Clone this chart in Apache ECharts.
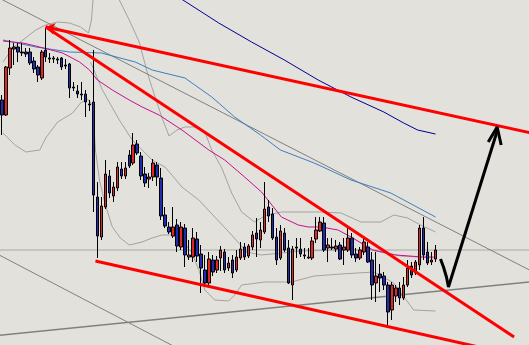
<!DOCTYPE html>
<html><head><meta charset="utf-8">
<script src="https://cdn.jsdelivr.net/npm/echarts@6/dist/echarts.min.js"></script>
<style>html,body{margin:0;padding:0;background:#e2e1dc;overflow:hidden}#c{width:529px;height:345px}</style>
</head><body><div id="c"></div>
<script>
// ---- data (price units, bar index on x) ----
const slotCount = 133;
const categories = Array.from({length: slotCount}, (_, i) => String(i));
// candles: [open, close, low, high]
const candles = [
[245,230,210,250],[230,278,229,279],[277,297,270,305],[296,298,280,302],[298,293,283,302],
[293,292,289,302],[293,291,288,297],[293,282,280,297],[284,276,272,288],[278,270,263,280],
[267,293,265,295],[295,288,283,317],[287,286,282,292],[286,287,282,289],[286,285,281,288],
[287,278,275,288],[280,279,276,286],[281,257,247,282],[258,257,254,263],[254,251,247,260],
[251,250,245,263],[251,243,228,255],[241,240,234,245],[243,150,133,295],[148,109,87,163],
[108,139,105,148],[138,171,136,185],[169,152,147,175],[149,158,143,163],[157,178,154,183],
[176,169,166,183],[169,177,166,183],[190,179,177,195],[182,200,180,212],[201,192,190,205],
[189,169,165,193],[171,162,158,178],[166,168,157,172],[168,182,164,186],[180,168,159,183],
[167,129,125,177],[130,119,117,138],[118,113,111,123],[109,118,107,138],[120,99,93,126],
[98,118,95,123],[117,90,78,121],[88,90,85,105],[88,107,83,117],[106,89,83,113],
[91,77,52,100],[75,62,58,90],[62,86,60,93],[85,73,69,90],[75,85,72,89],
[87,95,74,99],[93,75,72,96],[77,82,74,88],[85,72,67,90],[75,88,73,95],
[87,96,85,103],[98,88,85,102],[89,99,87,101],[98,110,95,114],[112,106,88,127],
[105,115,97,123],[113,136,111,163],[138,129,123,145],[131,107,105,137],[108,85,80,117],
[87,114,85,120],[112,95,93,117],[97,62,61,105],[60,96,45,99],[98,97,87,107],
[96,91,88,107],[90,89,86,97],[87,88,86,97],[87,104,85,108],[106,115,102,128],
[114,123,113,128],[122,95,93,128],[97,100,83,107],[98,97,95,107],[96,99,93,105],
[100,86,85,103],[95,98,80,107],[95,107,93,117],[107,90,87,112],[91,87,83,97],
[87,95,85,98],[93,103,90,107],[98,83,82,103],[85,60,45,93],[62,69,43,93],
[71,67,53,81],[69,60,55,73],[60,33,20,63],[35,60,25,63],[49,57,43,60],
[57,47,40,63],[47,60,45,68],[60,77,58,85],[79,70,67,83],[72,83,70,85],
[80,117,75,120],[117,90,85,128],[93,82,80,103],[83,85,80,93],[86,95,83,100]
];
// indicator lines: [barIndex, price]
const maSlow = [[42.75,351],[45.5,345],[54.5,322],[62.75,303],[71,285],[79.5,265],[87.75,248],[96,233],[101,222],[104.5,215],[109,211]];
const maMid = [[0.25,305],[8.5,298],[17,293],[25,292],[33.5,283],[37.75,275],[46,267],[52.75,248],[58.5,228],[65,210],[70,195],[78.5,182],[87.75,165],[97.75,152],[109,128]];
const maFast = [[0.25,304],[5.25,302],[8.5,299],[15.25,292],[19.5,283],[22,275],[24,265],[27.75,255],[32,245],[35.25,238],[39.5,230],[45.25,215],[52,195],[56,185],[61,168],[65.25,153],[70.25,128],[74.5,120],[77,118],[80.25,118],[84.5,115],[87.75,108],[93.25,95],[99,90],[105.75,88],[108.5,88]];
const bandUpper = [[0.25,283],[2.75,297],[5.25,305],[8.5,315],[11,320],[14,323],[17,322],[19.75,318],[21.75,312],[22.5,325],[23.25,365],null,
[28.5,365],[29.5,345],[32,325],[34.5,303],[36.5,273],[37.75,257],[40.25,227],[42,209],[44,215],[46,218],[48.25,218],[51,213],[52.75,195],[55.25,177],[57.75,152],[60.25,133],[63.5,123],[66.5,130],[70.25,133],[80.25,133],[85.25,132],[90.25,123],[95.25,123],[98.5,130],[102,127],[105.25,120],[109,113]];
const bandMiddle = [[22.25,283],[25.25,255],[29.5,225],[32.75,205],[37.75,185],[41,178],[45.25,158],[49.5,145],[53.5,128],[57.75,110],[61.5,93],[65.25,90],[75.25,94],[85.25,95],[92.75,95],[100.25,89],[109,87]];
const bandLower = [[0.25,212],[3.25,200],[6,193],[9.5,195],[11,207],[14,223],[17.75,232],[19.75,242],[21.5,246],[22.75,240],[23.5,195],[24.5,165],[26,140],[27.75,118],[29.75,107],[32,100],[35.25,103],[37.75,107],[40.25,110],[42.75,110],[45.25,105],[47.75,92],[49.5,75],[51,55],[53.5,45],[57,44],[58.5,50],[60.25,60],[66,63],[72.75,63],[78.5,69],[85.25,71],[93.5,73],[98.5,62],[103.5,35],[109,34]];
// drawn trend lines: [barIndex, price]
const trendUpper = [[11,318],[133.5,211.7]];
const trendLower = [[11,318],[128.75,8]];
const trendSupport = [[23.5,84],[121,-3]];
const channelTop = [[-1,347.5],[133,74.2]];
const channelBottom = [[-1,90.6],[45,-5]];
const risingLine = [[-1,9.5],[133,63.1]];
const levelLine = [[-1,95],[133,95]];
const forecastPath = [[110.25,86],[111,78],[111.75,68],[112.25,58],[124.5,214]];
const forecastHead = [[122.25,203],[124.5,218],[125.5,200]];

const chart = echarts.init(document.getElementById('c'), null, {renderer: 'canvas'});
function line(data, color, width, z, extra) {
  return Object.assign({type: 'line', xAxisIndex: 1, yAxisIndex: 0, data: data, showSymbol: false, symbol: 'none',
    lineStyle: {color: color, width: width}, z: z, silent: true, clip: true, connectNulls: false}, extra || {});
}
chart.setOption({
  animation: false,
  backgroundColor: '#e2e1dc',
  grid: {left: -2.5, top: 0, width: 532, height: 345},
  xAxis: [
    {type: 'category', data: categories, show: false, boundaryGap: true},
    {type: 'value', min: -0.5, max: 132.5, show: false}
  ],
  yAxis: [{type: 'value', min: 0, max: 345, show: false}],
  series: [
    line(bandUpper, '#a3a3a3', 1, 1),
    line(bandMiddle, '#a3a3a3', 1, 1),
    line(bandLower, '#a3a3a3', 1, 1),
    line(levelLine, '#a8a8a8', 1, 1),
    line(channelTop, '#808080', 1, 1),
    line(channelBottom, '#808080', 1, 1),
    line(risingLine, '#808080', 1.5, 1),
    line(maSlow, '#000090', 1, 2),
    line(maMid, '#3d7fc0', 1, 2),
    line(maFast, '#c8108c', 1, 2),
    {type: 'candlestick', xAxisIndex: 0, yAxisIndex: 0, data: candles, barWidth: 3, z: 3,
      itemStyle: {color: '#e02626', color0: '#1f2cb0', borderColor: '#000000', borderColor0: '#000000', borderWidth: 1}},
    line(trendUpper, '#ff0000', 3, 5, {markLine: {silent: true, symbol: ['arrow', 'none'], symbolSize: [9, 9], label: {show: false},
      lineStyle: {color: '#ff0000', width: 3, type: 'solid'}, data: [[{coord: trendUpper[0]}, {coord: [13, 316.3]}]]}}),
    line(trendLower, '#ff0000', 3, 5),
    line(trendSupport, '#ff0000', 3, 5),
    line(forecastPath, '#000000', 3, 6),
    line(forecastHead, '#000000', 3, 6)
  ]
});
</script></body></html>
